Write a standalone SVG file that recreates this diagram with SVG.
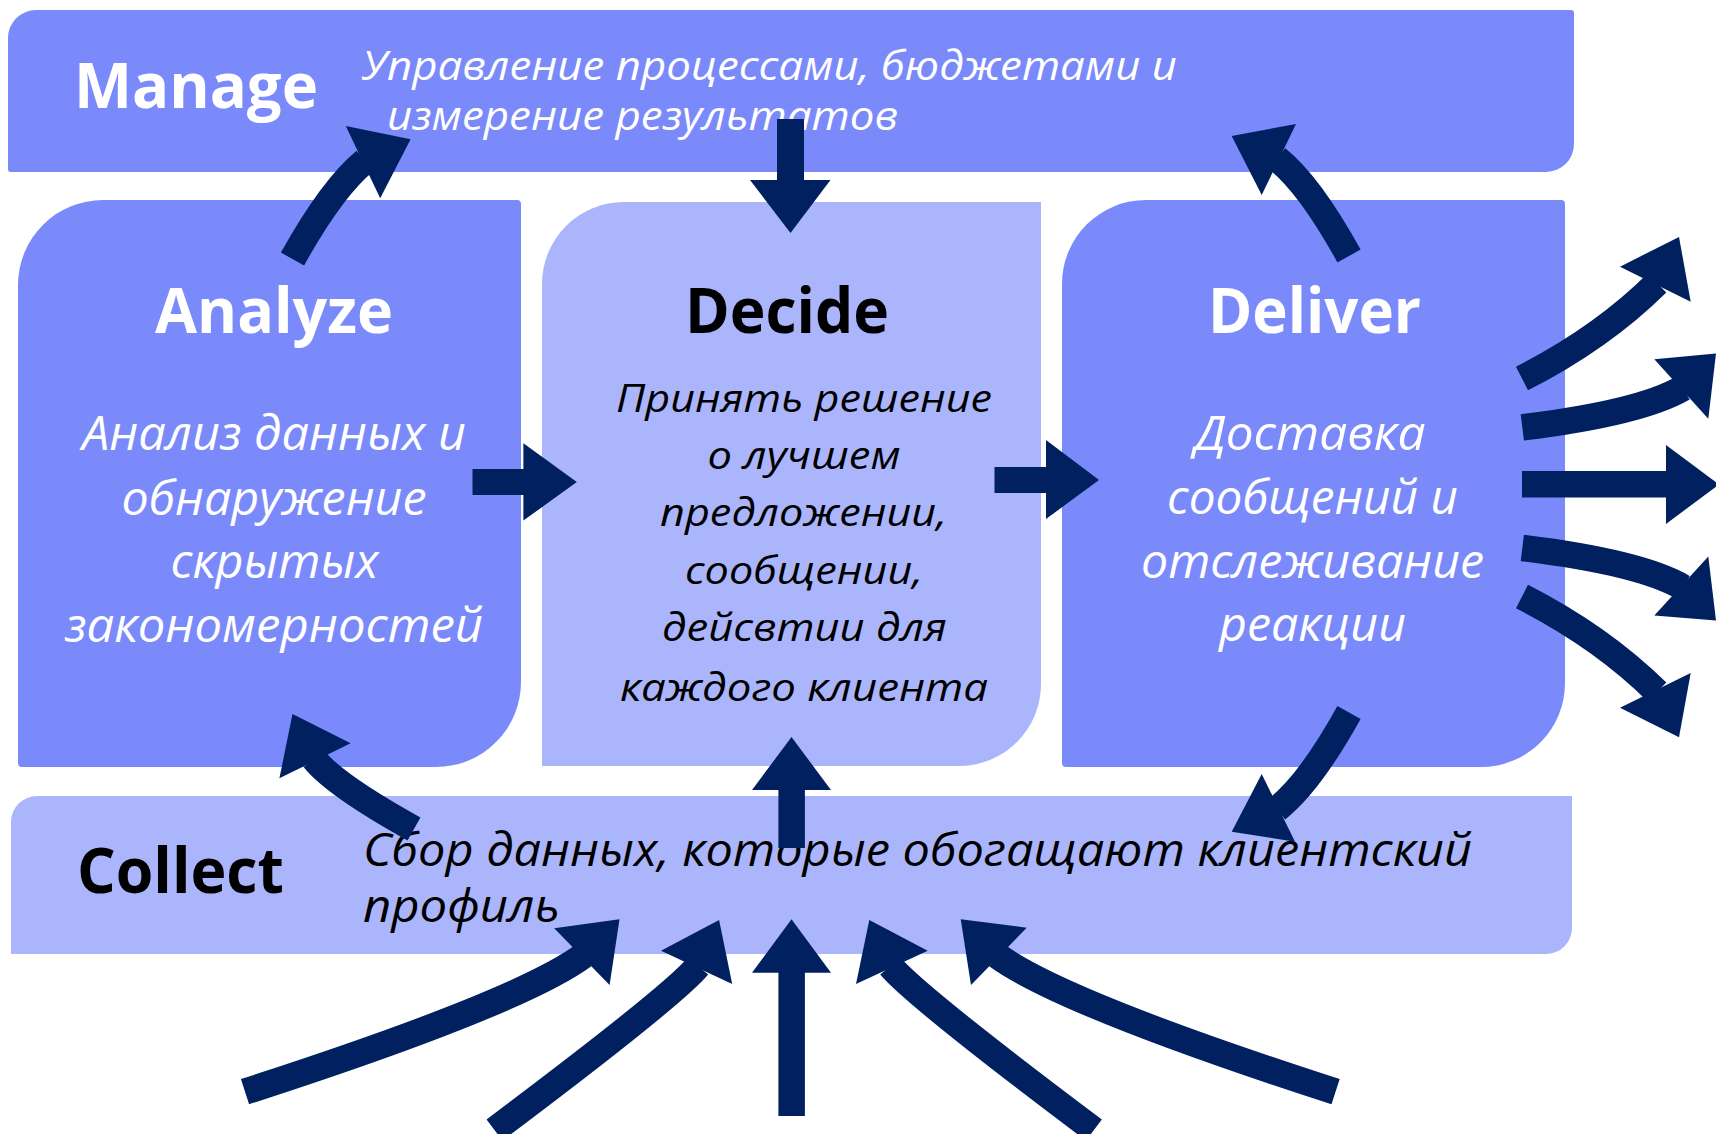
<svg xmlns="http://www.w3.org/2000/svg" width="1716" height="1134" viewBox="0 0 1716 1134">
<style>
.mid{fill:#7A8AFA}
.light{fill:#ABB5FC}
.title{font-family:"Open Sans","Noto Sans","Liberation Sans",sans-serif;font-weight:700;font-size:62px}
.body{font-family:"Open Sans","Noto Sans","Liberation Sans",sans-serif;font-style:italic}
.w{fill:#FFFFFF}
.k{fill:#000000}
.shaft{fill:none;stroke:#002060;stroke-width:26.5;stroke-linecap:butt}
.bar{fill:#002060}
.head{fill:#002060}
</style>
<rect width="1716" height="1134" fill="#FFFFFF"/>

<g id="manage">
<path class="mid" d="M36,10 H1571 Q1574,10 1574,13 V144 A28,28 0 0 1 1546,172 H11 Q8,172 8,169 V38 A28,28 0 0 1 36,10 Z"/>
<text class="title w" x="74" y="108" textLength="244" lengthAdjust="spacingAndGlyphs">Manage</text>
<text class="body w" font-size="41" x="362" y="80" textLength="815" lengthAdjust="spacingAndGlyphs">Управление процессами, бюджетами и</text>
<text class="body w" font-size="41" x="387" y="130" textLength="511" lengthAdjust="spacingAndGlyphs">измерение результатов</text>
</g>

<g id="analyze">
<path class="mid" d="M103,200 H517 Q521,200 521,204 V682 A85,85 0 0 1 436,767 H22 Q18,767 18,763 V285 A85,85 0 0 1 103,200 Z"/>
<text class="title w" x="155" y="333" textLength="238" lengthAdjust="spacingAndGlyphs">Analyze</text>
<g class="body w" font-size="47" text-anchor="middle">
<text x="274" y="450" textLength="384" lengthAdjust="spacingAndGlyphs">Анализ данных и</text>
<text x="274" y="515" textLength="305" lengthAdjust="spacingAndGlyphs">обнаружение</text>
<text x="274.5" y="578" textLength="208" lengthAdjust="spacingAndGlyphs">скрытых</text>
<text x="274" y="642" textLength="418" lengthAdjust="spacingAndGlyphs">закономерностей</text>
</g>
</g>

<g id="decide">
<path class="light" d="M624,202 H1041 V684 A82,82 0 0 1 959,766 H542 V284 A82,82 0 0 1 624,202 Z"/>
<text class="title k" x="685" y="333" textLength="204" lengthAdjust="spacingAndGlyphs">Decide</text>
<g class="body k" font-size="38" text-anchor="middle">
<text x="804" y="411.5" textLength="376" lengthAdjust="spacingAndGlyphs">Принять решение</text>
<text x="804" y="469" textLength="193" lengthAdjust="spacingAndGlyphs">о лучшем</text>
<text x="803.5" y="526" textLength="287" lengthAdjust="spacingAndGlyphs">предложении,</text>
<text x="804" y="584" textLength="238" lengthAdjust="spacingAndGlyphs">сообщении,</text>
<text x="804.5" y="641" textLength="285" lengthAdjust="spacingAndGlyphs">дейсвтии для</text>
<text x="804" y="700.5" textLength="368" lengthAdjust="spacingAndGlyphs">каждого клиента</text>
</g>
</g>

<g id="deliver">
<path class="mid" d="M1146,200 H1561 Q1565,200 1565,204 V683 A84,84 0 0 1 1481,767 H1066 Q1062,767 1062,763 V284 A84,84 0 0 1 1146,200 Z"/>
<text class="title w" x="1208" y="333" textLength="213" lengthAdjust="spacingAndGlyphs">Deliver</text>
<g class="body w" font-size="47" text-anchor="middle">
<text x="1310" y="450" textLength="231" lengthAdjust="spacingAndGlyphs">Доставка</text>
<text x="1312.5" y="514" textLength="291" lengthAdjust="spacingAndGlyphs">сообщений и</text>
<text x="1312.5" y="578" textLength="343" lengthAdjust="spacingAndGlyphs">отслеживание</text>
<text x="1312.5" y="641" textLength="187" lengthAdjust="spacingAndGlyphs">реакции</text>
</g>
</g>

<g id="collect">
<path class="light" d="M37,796 H1572 V928 A26,26 0 0 1 1546,954 H11 V822 A26,26 0 0 1 37,796 Z"/>
<text class="title k" x="77" y="893" textLength="207" lengthAdjust="spacingAndGlyphs">Collect</text>
<text class="body k" font-size="45" x="363" y="866" textLength="1109" lengthAdjust="spacingAndGlyphs">Сбор данных, которые обогащают клиентский</text>
<text class="body k" font-size="45" x="363" y="922" textLength="197" lengthAdjust="spacingAndGlyphs">профиль</text>
</g>

<g id="connectors">
<!-- Analyze -> Manage -->
<path class="shaft" d="M292.5,259 Q332,188 365,161"/>
<polygon class="head" points="345.8,126 410.6,139.3 380.2,198.3"/>
<!-- Manage -> Decide -->
<rect class="bar" x="777" y="119" width="27" height="62"/>
<polygon class="head" points="750,180 830.5,180 790.5,233"/>
<!-- Deliver -> Manage -->
<path class="shaft" d="M1349,256 Q1310,185 1277,158.5"/>
<polygon class="head" points="1296,124 1231.7,136 1261.7,195"/>
<!-- Analyze -> Decide -->
<rect class="bar" x="472.5" y="469" width="52" height="26"/>
<polygon class="head" points="523.4,443.3 576.8,482 523.4,520.6"/>
<!-- Decide -> Deliver -->
<rect class="bar" x="994.5" y="467" width="53" height="26"/>
<polygon class="head" points="1046,440 1099,480 1046,519"/>
<!-- Collect -> Analyze -->
<path class="shaft" d="M414,829 Q335.5,785.5 314,759"/>
<polygon class="head" points="292.5,714 350.6,743.3 279.4,778.3"/>
<!-- Collect -> Decide -->
<rect class="bar" x="778.4" y="789" width="26.5" height="59"/>
<polygon class="head" points="752,790 831,790 791.5,737"/>
<!-- Deliver -> Collect -->
<path class="shaft" d="M1349,712.5 Q1310,783 1277,809"/>
<polygon class="head" points="1295,841.7 1231.7,831.7 1261.7,774"/>
<!-- Deliver outputs -->
<path class="shaft" d="M1522,378.5 Q1601.5,338 1657,283"/>
<polygon class="head" points="1620,266.7 1679,236.9 1690.7,301.8"/>
<path class="shaft" d="M1522.3,427.4 Q1640,413 1683,388"/>
<polygon class="head" points="1654.3,359.3 1716,353.5 1708.3,418.8"/>
<rect class="bar" x="1522" y="471" width="145" height="26.5"/>
<polygon class="head" points="1666,445 1719,484.4 1666,524"/>
<path class="shaft" d="M1522.3,548 Q1640,562.4 1683,587.4"/>
<polygon class="head" points="1708.3,556.4 1716,620.6 1654.3,615.5"/>
<path class="shaft" d="M1522,596.5 Q1601.5,637 1657,692"/>
<polygon class="head" points="1620,707.8 1679,737.2 1690.7,673"/>
<!-- Inputs into Collect -->
<path class="shaft" d="M245,1091.7 Q519,1003 583.5,955.5"/>
<polygon class="head" points="554.2,928.3 619.5,919.3 609.6,985"/>
<path class="shaft" d="M494.5,1130 Q673,996 698,966"/>
<polygon class="head" points="661,950.7 719.1,920 732.2,984"/>
<rect class="bar" x="778.4" y="972" width="26.5" height="144"/>
<polygon class="head" points="752,972.7 831,972.7 791.5,919.3"/>
<path class="shaft" d="M1093.9,1130 Q915.4,996 890.4,966"/>
<polygon class="head" points="927.7,950.7 869.3,920 856,984"/>
<path class="shaft" d="M1335.6,1091.7 Q1061.6,1003 997.1,955.5"/>
<polygon class="head" points="1026.7,927.7 960.7,919.3 971,985"/>
</g>
</svg>
